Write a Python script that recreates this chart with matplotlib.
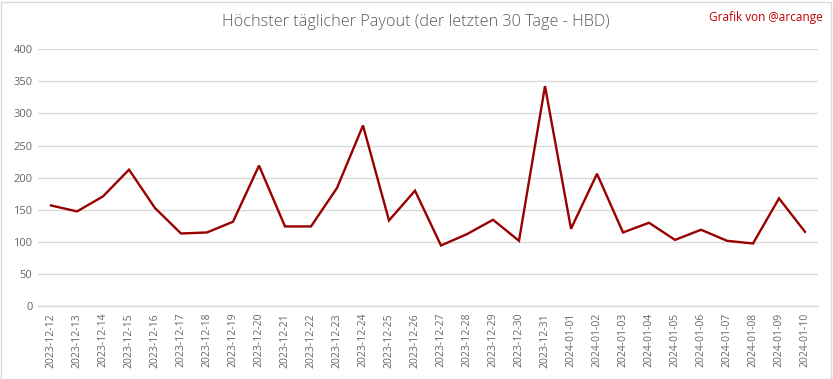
import matplotlib
matplotlib.use("Agg")
import matplotlib.pyplot as plt
from matplotlib.patches import Rectangle

dates = ["2023-12-12", "2023-12-13", "2023-12-14", "2023-12-15", "2023-12-16",
         "2023-12-17", "2023-12-18", "2023-12-19", "2023-12-20", "2023-12-21",
         "2023-12-22", "2023-12-23", "2023-12-24", "2023-12-25", "2023-12-26",
         "2023-12-27", "2023-12-28", "2023-12-29", "2023-12-30", "2023-12-31",
         "2024-01-01", "2024-01-02", "2024-01-03", "2024-01-04", "2024-01-05",
         "2024-01-06", "2024-01-07", "2024-01-08", "2024-01-09", "2024-01-10"]
payout = [156.7, 147.4, 170.8, 212.5, 152.6, 113.0, 114.6, 131.3, 218.8, 124.0,
          124.0, 183.9, 281.3, 133.3, 179.7, 94.3, 112.0, 134.4, 101.6, 342.7,
          120.3, 206.0, 114.6, 129.7, 103.0, 118.8, 101.6, 97.4, 167.7, 115.6]
yticks = [0, 50, 100, 150, 200, 250, 300, 350, 400]

title = "Höchster täglicher Payout (der letzten 30 Tage - HBD)"
credit = "Grafik von @arcange"

W, H = 833, 379
fig = plt.figure(figsize=(W / 100, H / 100), dpi=100)
ax = fig.add_axes([38 / W, 1 - 306 / H, (818 - 38) / W, (306 - 49.3) / H])

x = list(range(len(dates)))
ax.plot(x, payout, color="#990000", linewidth=1.7, solid_joinstyle="miter")

ax.set_xlim(-0.5, len(dates) - 0.5)
ax.set_ylim(0, 400)
ax.set_yticks(yticks)
ax.set_xticks(x)
ax.set_xticklabels(dates, rotation=90, fontsize=7.5, color="#666666", family="Open Sans")
ax.set_yticklabels([str(v) for v in yticks], fontsize=8, color="#666666", family="Open Sans")
ax.tick_params(axis="both", length=0, pad=4)
ax.tick_params(axis="x", pad=5)
ax.grid(axis="y", color="#d9d9d9", linewidth=1)
ax.set_axisbelow(True)
for s in ["top", "right", "left"]:
    ax.spines[s].set_visible(False)
ax.spines["bottom"].set_color("#d9d9d9")
ax.spines["bottom"].set_linewidth(1)

fig.text(416 / W, 1 - 22 / H, title, ha="center", va="center", fontsize=11.7,
         color="#595959", family="Open Sans", fontweight="light")
fig.text(823 / W, 1 - 17 / H, credit, ha="right", va="center", fontsize=8.5,
         color="#c00000", family="Open Sans")

fig.patches.append(Rectangle((0.5 / W, 0.5 / H), 1 - 3 / W, 1 - 2 / H,
                             transform=fig.transFigure, fill=False,
                             edgecolor="#d9d9d9", linewidth=1))

fig.savefig("out.png", dpi=100)
